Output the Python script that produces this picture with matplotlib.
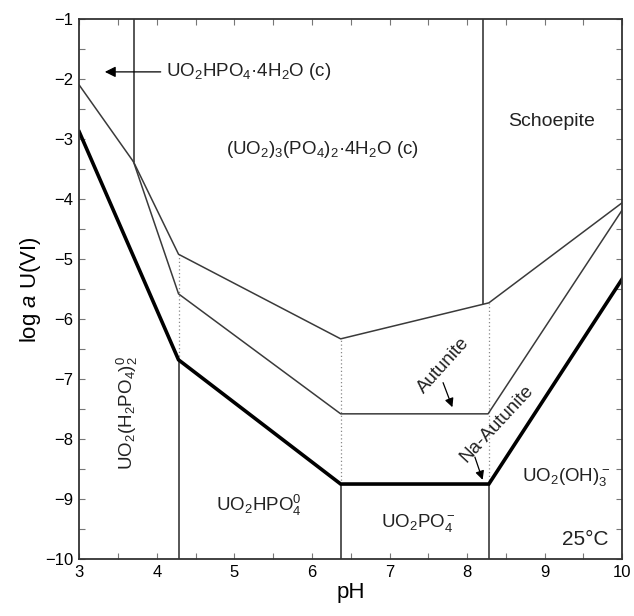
import matplotlib
matplotlib.use("Agg")
import matplotlib.pyplot as plt
from matplotlib.ticker import MultipleLocator

plt.rcParams['font.family'] = ['Liberation Sans', 'DejaVu Sans']
plt.rcParams['mathtext.fontset'] = 'custom'
plt.rcParams['mathtext.rm'] = 'Liberation Sans'
plt.rcParams['mathtext.it'] = 'Liberation Sans:italic'
plt.rcParams['mathtext.bf'] = 'Liberation Sans:bold'

# ---- data (pH, log a U(VI)) ----
bold_ph = [3.0, 4.28, 6.37, 8.28, 10.0]
bold_log = [-2.88, -6.68, -8.75, -8.75, -5.33]

upper_ph = [3.0, 3.70, 4.28, 6.37, 8.28, 10.0]
upper_log = [-2.10, -3.38, -4.92, -6.33, -5.73, -4.06]

mid_ph = [3.70, 4.28, 6.37, 8.27, 10.0]
mid_log = [-3.38, -5.58, -7.58, -7.58, -4.18]

# solid vertical boundaries: (pH, ymin, ymax)
vert_solid = [(3.70, -3.38, -1.0), (8.21, -5.75, -1.0),
              (4.28, -10.0, -6.68), (6.37, -10.0, -8.75), (8.28, -10.0, -8.75)]
# dotted vertical boundaries
vert_dot = [(4.28, -6.68, -4.92), (6.37, -8.75, -6.33), (8.28, -8.75, -5.73)]

fig = plt.figure(figsize=(6.34, 6.16), dpi=100)
ax = fig.add_axes([0.125, 0.0925, 0.8565, 0.8765])

thin = '#3a3a3a'
for x, y0, y1 in vert_solid:
    ax.plot([x, x], [y0, y1], color=thin, lw=1.2, solid_capstyle='butt')
for x, y0, y1 in vert_dot:
    ax.plot([x, x], [y0, y1], color='#888888', lw=0.9, ls=(0, (1, 2)))

ax.plot(upper_ph, upper_log, color=thin, lw=1.1)
ax.plot(mid_ph, mid_log, color=thin, lw=1.1)
ax.plot(bold_ph, bold_log, color='black', lw=2.6, solid_joinstyle='miter')

ax.set_xlim(3, 10)
ax.set_ylim(-10, -1)
ax.xaxis.set_major_locator(MultipleLocator(1))
ax.xaxis.set_minor_locator(MultipleLocator(0.5))
ax.yaxis.set_major_locator(MultipleLocator(1))
ax.yaxis.set_minor_locator(MultipleLocator(0.5))
ax.tick_params(which='both', direction='in', top=True, right=True,
               length=4, width=0.8, color='#777777', labelsize=12, pad=4)
for s in ax.spines.values():
    s.set_linewidth(1.3)
    s.set_color('#333333')

ax.set_xlabel('pH', fontsize=16, labelpad=2)
ax.set_ylabel('log $a$ U(VI)', fontsize=16, labelpad=2)

fs = 13.5
txtc = '#222222'
ax.text(4.12, -1.88, 'UO$_2$HPO$_4$·4H$_2$O (c)', fontsize=fs, ha='left', va='center', color=txtc)
ax.annotate('', xy=(3.33, -1.88), xytext=(4.05, -1.88),
            arrowprops=dict(arrowstyle='-|>', color='black', lw=0.9,
                            mutation_scale=16, shrinkA=0, shrinkB=0))
ax.text(6.14, -3.18, '(UO$_2$)$_3$(PO$_4$)$_2$·4H$_2$O (c)', fontsize=fs, ha='center', va='center', color=txtc)
ax.text(9.09, -2.7, 'Schoepite', fontsize=14, ha='center', va='center', color=txtc)
ax.text(3.62, -7.57, 'UO$_2$(H$_2$PO$_4$)$_2^0$', fontsize=fs, ha='center', va='center',
        rotation=90, color=txtc)
ax.text(5.31, -9.10, 'UO$_2$HPO$_4^0$', fontsize=fs, ha='center', va='center', color=txtc)
ax.text(7.37, -9.40, 'UO$_2$PO$_4^-$', fontsize=fs, ha='center', va='center', color=txtc)
ax.text(9.28, -8.63, 'UO$_2$(OH)$_3^-$', fontsize=fs, ha='center', va='center', color=txtc)
ax.text(9.82, -9.68, '25°C', fontsize=15, ha='right', va='center', color=txtc)

ax.text(7.69, -6.77, 'Autunite', fontsize=fs, ha='center', va='center', rotation=48, color=txtc)
ax.annotate('', xy=(7.81, -7.47), xytext=(7.69, -7.06),
            arrowprops=dict(arrowstyle='-|>', color='black', lw=0.9,
                            mutation_scale=13, shrinkA=0, shrinkB=0))
ax.text(8.39, -7.75, 'Na-Autunite', fontsize=fs, ha='center', va='center', rotation=47, color=txtc)
ax.annotate('', xy=(8.20, -8.68), xytext=(8.10, -8.30),
            arrowprops=dict(arrowstyle='-|>', color='black', lw=0.9,
                            mutation_scale=13, shrinkA=0, shrinkB=0))

fig.savefig('out.png', dpi=100)
